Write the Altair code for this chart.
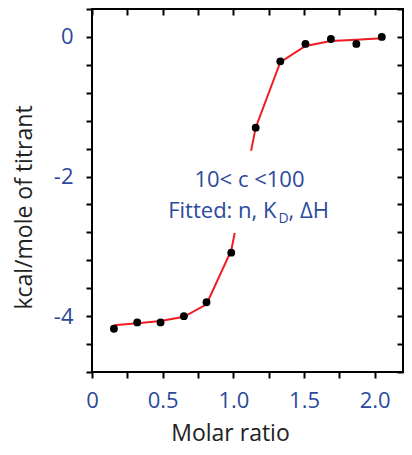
import json
import altair as alt
import pandas as pd

# ---- data ----
molar_ratio = [0.155, 0.32, 0.485, 0.65, 0.81, 0.985, 1.158, 1.332, 1.51, 1.69, 1.87, 2.05]
heat_measured = [-4.18, -4.09, -4.09, -4.00, -3.80, -3.09, -1.30, -0.35, -0.10, -0.03, -0.10, 0.0]
heat_fit = [-4.13, -4.10, -4.07, -4.01, -3.83, -3.06, -1.30, -0.36, -0.13, -0.06, -0.04, -0.02]

x_ticks = [0, 0.25, 0.5, 0.75, 1.0, 1.25, 1.5, 1.75, 2.0]
x_labels = [0, 0.5, 1.0, 1.5, 2.0]
y_ticks = [0.4, 0, -0.4, -0.8, -1.2, -1.6, -2.0, -2.4, -2.8, -3.2, -3.6, -4.0, -4.4, -4.8]
y_labels = [0, -2, -4]

annotation_line1 = "10< c <100"
annotation_line2 = ["Fitted: n, K", "D", ", \u0394H"]
annotation_x = [1.114, 1.305]
annotation_y = [-2.147, -2.60]
annotation_box = {"x": [0.95], "x2": [1.25], "y": [-1.63], "y2": [-2.81]}

x_domain = [0, 2.2]
y_domain = [-4.8, 0.4]

BLUE = "#2b4a9c"
FONT = "Open Sans"

df = pd.DataFrame({"x": molar_ratio, "y": heat_measured, "fit": heat_fit})

xs = alt.Scale(domain=x_domain, nice=False, zero=False)
ys = alt.Scale(domain=y_domain, nice=False, zero=False)

x_label_expr = (
    "indexof(" + json.dumps(x_labels) + ", datum.value) >= 0 ? "
    "(datum.value == 0 ? '0' : format(datum.value, '.1f')) : ''"
)
y_label_expr = (
    "indexof(" + json.dumps(y_labels) + ", round(datum.value*10)/10) >= 0 ? "
    "toString(round(datum.value)) : ''"
)

common_axis = dict(
    domain=False, grid=False, tickColor="black", tickWidth=2, tickSize=6,
)

bottom_axis = alt.Axis(
    orient="bottom", values=x_ticks, labelExpr=x_label_expr,
    labelFont=FONT, labelFontSize=22, labelColor=BLUE, labelPadding=12,
    labelFlush=False, labelOverlap=False,
    title="Molar ratio", titleFont=FONT, titleFontSize=23, titleFontWeight="normal",
    titleColor="#222222", titleX=138, titleY=68, titleAlign="center",
    titleBaseline="alphabetic", **common_axis,
)
left_axis = alt.Axis(
    orient="left", values=y_ticks, labelExpr=y_label_expr,
    labelFont=FONT, labelFontSize=22, labelColor=BLUE, labelPadding=13,
    labelFlush=False, labelOverlap=False,
    title="kcal/mole of titrant", titleFont=FONT, titleFontSize=23,
    titleFontWeight="normal", titleColor="#222222", titleAngle=270,
    titleX=-61, titleY=198, titleAlign="center", titleBaseline="alphabetic",
    **common_axis,
)
top_axis = alt.Axis(
    orient="top", values=x_ticks, labels=False, title=None, offset=-6, **common_axis,
)
right_axis = alt.Axis(
    orient="right", values=y_ticks, labels=False, title=None, offset=-6, **common_axis,
)

fit_line = alt.Chart(df).mark_line(color="#f01c22", strokeWidth=2).encode(
    x=alt.X("x:Q", scale=xs, axis=top_axis),
    y=alt.Y("fit:Q", scale=ys, axis=right_axis),
)

box = alt.Chart(pd.DataFrame(annotation_box)).mark_rect(fill="white").encode(
    x=alt.X("x:Q", axis=None), x2="x2:Q",
    y=alt.Y("y:Q", axis=None), y2="y2:Q",
)

points = alt.Chart(df).mark_circle(size=62, color="black", opacity=1).encode(
    x=alt.X("x:Q", scale=xs, axis=bottom_axis),
    y=alt.Y("y:Q", scale=ys, axis=left_axis),
)

text1 = alt.Chart(pd.DataFrame({"x": [annotation_x[0]], "y": [annotation_y[0]], "t": [annotation_line1]})).mark_text(
    align="center", baseline="alphabetic", font=FONT, fontSize=22, color=BLUE
).encode(x=alt.X("x:Q", axis=None), y=alt.Y("y:Q", axis=None), text="t:N")

t2 = pd.DataFrame({"x": [annotation_x[1]], "y": [annotation_y[1]],
                   "a": [annotation_line2[0]], "b": [annotation_line2[1]], "c": [annotation_line2[2]]})
base2 = alt.Chart(t2).encode(x=alt.X("x:Q", axis=None), y=alt.Y("y:Q", axis=None))
text2a = base2.mark_text(align="right", baseline="alphabetic", font=FONT, fontSize=22, color=BLUE).encode(text="a:N")
text2b = base2.mark_text(align="left", baseline="alphabetic", font=FONT, fontSize=14, color=BLUE, dx=2, dy=5).encode(text="b:N")
text2c = base2.mark_text(align="left", baseline="alphabetic", font=FONT, fontSize=22, color=BLUE, dx=12).encode(text="c:N")

chart = alt.layer(fit_line, box, points, text1, text2a, text2b, text2c).resolve_axis(
    x="independent", y="independent"
).properties(
    width=311, height=363,
    padding={"left": 84, "top": 1, "right": 1, "bottom": 75},
    autosize=alt.AutoSizeParams(type="none"),
).configure_view(stroke="black", strokeWidth=2)

chart.save("out.html", embed_options={"renderer": "svg", "actions": False})
